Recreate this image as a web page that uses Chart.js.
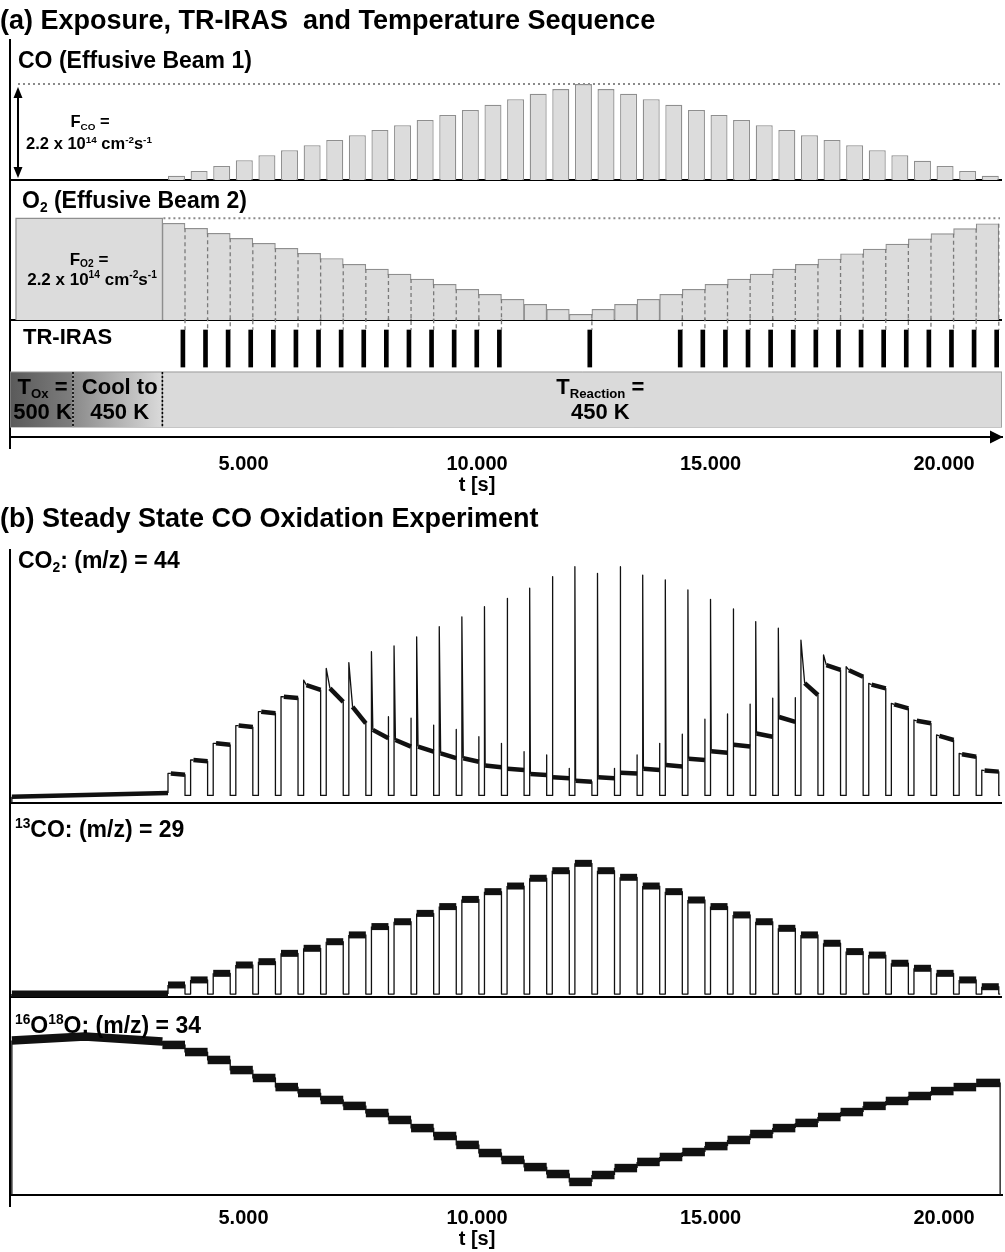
<!DOCTYPE html>
<html>
<head>
<meta charset="utf-8">
<title>CO oxidation - modulated beam sequence</title>
<script src="https://cdn.jsdelivr.net/npm/chart.js@4.4.1/dist/chart.umd.min.js"></script>
<style>
  html, body { margin: 0; padding: 0; background: #fff; }
  #page { position: relative; width: 1005px; height: 1252px; overflow: hidden; font-family: "Liberation Sans", Arial, sans-serif; }
  .box { position: absolute; left: 0; width: 1005px; }
  #boxA { top: 0; height: 497px; }
  #boxB { top: 500px; height: 752px; }
  .head { position: absolute; left: 0; font-weight: bold; font-size: 27px; line-height: 1; color: #000; white-space: pre; z-index: 2; }
</style>
</head>
<body>
<div id="page">
  <div class="box" id="boxA"><canvas id="seq"></canvas></div>
  <div class="box" id="boxB"><canvas id="ms"></canvas></div>
  <div class="head" style="top:7px">(a) Exposure, TR-IRAS  and Temperature Sequence</div>
  <div class="head" style="top:505px">(b) Steady State CO Oxidation Experiment</div>
</div>
<script>
// ---------------- timing (s) ----------------
const pulseStart = [3383, 3867, 4351, 4835, 5319, 5803, 6287, 6771, 7255, 7739, 8223, 8707, 9191, 9675,
  10159, 10643, 11127, 11611, 12095, 12579, 13063, 13547, 14031, 14515, 14999, 15483, 15967, 16451,
  16935, 17419, 17903, 18387, 18871, 19355, 19839, 20323, 20807];
const coOn = 364;        // CO beam open per pulse
const coOff = 120;       // CO beam closed between pulses
const irasScan = 90;     // IR spectra taken at the end of a pulse
const o2PreStart = 128;
const tempSwitch = [0, 1349, 3263, 21240];   // T_ox | cooling | T_reaction
const traceStart = 40, traceEnd = 21200, timeMax = 21240;

// ---------------- beam fluxes, % of 2.2e14 cm-2 s-1 ----------------
const coFlux = [4.5, 9.4, 14.6, 20.6, 25.8, 31, 36.3, 41.8, 46.7, 52.2, 57.2, 62.7, 67.9, 73.1, 78.4, 84.3,
  89.9, 94.8, 100, 94.8, 89.9, 84.3, 78.4, 73.1, 67.9, 62.7, 57.2, 52.2, 46.7, 41.8, 36.3, 31, 25.8, 20.2,
  14.6, 9.4, 4.5];
const o2Flux = [95.1, 90.2, 85.3, 80.3, 75.4, 70.5, 65.6, 60.5, 54.8, 50.1, 45.2, 40.3, 35.1, 30.2, 25.3,
  20.4, 15.4, 10.5, 5.6, 10.5, 15.4, 20.4, 25.3, 30.2, 35.1, 40.3, 45.2, 50.1, 54.8, 60.0, 65.2, 69.8,
  74.7, 79.9, 84.9, 89.8, 94.7];
const o2PreFlux = 100;
const irasPulses = [0, 1, 2, 3, 4, 5, 6, 7, 8, 9, 10, 11, 12, 13, 14, 18, 22, 23, 24, 25, 26, 27, 28, 29,
  30, 31, 32, 33, 34, 35, 36];

// ---------------- QMS signals (arb. units, 0..100 of panel) ----------------
const co2Pre = [2.5, 4.0];
const co2Off = 3.0;
const co2Peak = [11.7, 17.0, 23.6, 30.6, 36.1, 42.0, 48.6, 53.2, 55.5, 59.8, 62.1, 65.7, 69.7, 73.6, 77.6,
  80.9, 84.9, 89.5, 93.4, 90.8, 93.4, 90.1, 88.2, 84.2, 80.5, 76.7, 71.7, 69.1, 64.4, 58.5, 53.9, 47.3,
  39.4, 32.8, 26.9, 19.6, 13.0];
const co2KneeDt = [60, 60, 60, 60, 60, 60, 60, 80, 80, 30, 30, 30, 30, 30, 15, 15, 15, 15, 15, 15, 15, 15,
  15, 15, 15, 15, 15, 15, 80, 60, 60, 60, 60, 60, 60, 60, 60];
const co2Knee = [11.7, 17.0, 23.6, 30.6, 36.1, 42.0, 46.6, 45.3, 38.0, 28.9, 24.9, 22.3, 19.6, 17.7, 14.8,
  13.5, 11.5, 10.2, 8.8, 10.2, 12.0, 13.5, 15.0, 17.5, 20.5, 23.0, 27.5, 34.0, 47.4, 54.5, 52.5, 46.8,
  39.0, 32.5, 26.5, 19.3, 12.8];
const co2End = [11.2, 16.5, 23.0, 30.0, 35.5, 41.5, 44.7, 40.0, 31.5, 25.6, 22.3, 20.3, 17.7, 16.3, 14.1,
  13.0, 11.1, 9.8, 8.4, 9.8, 11.7, 13.0, 14.4, 17.0, 19.9, 22.3, 26.2, 32.1, 42.7, 52.6, 49.9, 45.3,
  37.4, 31.5, 24.9, 18.3, 12.4];
const co2EndPeak = [0, 0, 0, 0, 0, 0, 0, 0, 0, 34.1, 33.5, 30.8, 29.1, 26.2, 23.6, 20.3, 19.0, 13.7, 0,
  13.7, 19.0, 23.6, 27.2, 33.1, 35.2, 39.1, 41.4, 41.6, 0, 0, 0, 0, 0, 0, 0, 0, 0];

const co13Off = 1.5;
const co13Level = [6.2, 8.8, 12.2, 16.5, 18.2, 22.5, 25.1, 28.5, 32.0, 36.3, 38.8, 43.1, 46.6, 50.3, 54.3,
  57.2, 61.2, 65.1, 68.9, 65.1, 61.7, 57.2, 54.3, 50.0, 46.6, 42.3, 38.8, 35.4, 32.0, 27.7, 23.4, 21.6,
  17.4, 14.8, 12.2, 8.8, 5.3];

const o18PreT = [40, 1600, 3263];
const o18Pre = [78, 80, 77.5];
const o18Level = [75.8, 72.2, 68.2, 63.1, 59.1, 54.5, 51.5, 48.0, 45.0, 41.4, 37.9, 33.8, 29.8, 25.3, 21.2,
  17.7, 14.1, 10.6, 6.6, 10.1, 13.6, 16.7, 19.2, 21.7, 24.7, 27.8, 30.8, 33.8, 36.4, 39.4, 41.9, 45.0,
  47.5, 50.0, 52.5, 54.5, 56.6];

// ---------------- axis text ----------------
const timeTicks = [5000, 10000, 15000, 20000];
const timeLabels = ['5.000', '10.000', '15.000', '20.000'];
const timeTitle = 't [s]';
const timeTitleUnder = 10000;

// derived timing
const coEnd = pulseStart.map(t => t + coOn);
const o2Edges = [pulseStart[0] - coOff].concat(coEnd);

const FONT = '"Liberation Sans", Arial, Helvetica, sans-serif';
Chart.defaults.font.family = FONT;
Chart.defaults.color = '#000';
Chart.defaults.animation = false;

const barFill = '#dcdcdc', barEdge = '#8f8f8f';

function timeAxis() {
  return {
    type: 'linear', min: 0, max: timeMax, position: 'bottom', offset: false,
    grid: {display: false, drawTicks: false},
    border: {color: '#000', width: 2},
    ticks: {stepSize: 2500, display: false}
  };
}
function hiddenX() { return {type: 'linear', min: 0, max: timeMax, offset: false, display: false}; }
function panelY(order, h, min, max) {
  return {type: 'linear', position: 'left', stack: 'panels', weight: order, stackWeight: h, min: min, max: max,
    grid: {display: false, drawTicks: false}, ticks: {display: false}, border: {color: '#000', width: 2}};
}

function hGrad(chart, t0, t1, c0, c1) {
  const xs = chart.scales.x;
  if (!xs || !chart.chartArea) return c1;
  const g = chart.ctx.createLinearGradient(xs.getPixelForValue(t0), 0, xs.getPixelForValue(t1), 0);
  g.addColorStop(0, c0);
  g.addColorStop(1, c1);
  return g;
}
function region(a, b) {
  return [{x: a, y: 0}, {x: a, y: 1}, {x: b, y: 1}, {x: b, y: 0}];
}

// ---- small drawing helpers ----
function font(size) { return 'bold ' + size + 'px ' + FONT; }

function drawRich(ctx, parts, x, y, size, align) {
  const items = parts.map(p => {
    const text = Array.isArray(p) ? p[0] : p;
    const kind = Array.isArray(p) ? p[1] : '';
    const s = kind ? size * 0.6 : size;
    ctx.font = font(s);
    return {text, kind, s, w: ctx.measureText(text).width};
  });
  const total = items.reduce((a, it) => a + it.w, 0);
  let cx = align === 'center' ? x - total / 2 : x;
  ctx.textAlign = 'left';
  ctx.textBaseline = 'middle';
  items.forEach(it => {
    ctx.font = font(it.s);
    const dy = it.kind === 'sub' ? size * 0.27 : it.kind === 'sup' ? -size * 0.3 : 0;
    ctx.fillText(it.text, cx, y + dy);
    cx += it.w;
  });
}

function timeTicksDraw(ctx, xs, y, major, minor) {
  ctx.save();
  ctx.strokeStyle = '#000';
  ctx.lineWidth = 2;
  xs.ticks.forEach(t => {
    if (t.value % 2500 !== 0) return;
    const px = Math.round(xs.getPixelForValue(t.value));
    const len = t.value % 5000 === 0 ? major : minor;
    ctx.beginPath(); ctx.moveTo(px, y); ctx.lineTo(px, y + len); ctx.stroke();
  });
  ctx.restore();
}

function timeLabelsDraw(ctx, xs, y, gap) {
  ctx.save();
  ctx.fillStyle = '#000';
  ctx.font = font(20);
  ctx.textAlign = 'center';
  ctx.textBaseline = 'middle';
  timeTicks.forEach((v, k) => {
    const px = xs.getPixelForValue(v);
    ctx.fillText(timeLabels[k], px, y);
    if (v === timeTitleUnder) ctx.fillText(timeTitle, px, y + gap);
  });
  ctx.restore();
}

function separator(ctx, xs, y) {
  ctx.save();
  ctx.strokeStyle = '#000';
  ctx.lineWidth = 2;
  ctx.beginPath(); ctx.moveTo(xs.left, y); ctx.lineTo(xs.right, y); ctx.stroke();
  ctx.restore();
  timeTicksDraw(ctx, xs, y, 10, 5);
}

function dottedLine(ctx, x0, x1, y) {
  ctx.save();
  ctx.strokeStyle = '#8a8a8a';
  ctx.lineWidth = 2;
  ctx.setLineDash([2, 3]);
  ctx.beginPath(); ctx.moveTo(x0, y); ctx.lineTo(x1, y); ctx.stroke();
  ctx.restore();
}

function head(ctx, x, tipY, dir) {
  ctx.beginPath();
  ctx.moveTo(x, tipY);
  ctx.lineTo(x - 4.5, tipY + dir * 11);
  ctx.lineTo(x + 4.5, tipY + dir * 11);
  ctx.closePath();
  ctx.fill();
}

const fluxLine2 = ['2.2 x 10', ['14', 'sup'], ' cm', ['-2', 'sup'], 's', ['-1', 'sup']];

//==================== (a) exposure sequence ====================
const seqDecor = {
  id: 'seqDecor',
  beforeDatasetsDraw(chart) {
    const ctx = chart.ctx, s = chart.scales;
    separator(ctx, s.x, s.yCO.bottom);
    separator(ctx, s.x, s.yO2.bottom);
    timeTicksDraw(ctx, s.x, s.x.top, 12, 6);
    dottedLine(ctx, s.x.left + 8, s.x.right - 2, s.yCO.getPixelForValue(100));
    dottedLine(ctx, s.x.getPixelForValue(o2Edges[0]) + 1, s.x.right - 2, s.yO2.getPixelForValue(100));
  },
  afterDatasetsDraw(chart) {
    const ctx = chart.ctx, s = chart.scales;
    ctx.save();

    // dashed guides from O2 steps down to the IR scans
    irasPulses.forEach(i => {
      const px = s.x.getPixelForValue(coEnd[i]);
      const next = i + 1 < o2Flux.length ? o2Flux[i + 1] : o2Flux[i];
      const yTop = s.yO2.getPixelForValue(Math.min(o2Flux[i], next));
      const yMark = s.yIR.getPixelForValue(1);
      if (i + 1 < o2Flux.length) {
        ctx.fillStyle = barFill;
        ctx.fillRect(px - 1.7, yTop + 1, 3.4, s.yO2.bottom - yTop - 2.5);
      }
      ctx.strokeStyle = '#7a7a7a';
      ctx.lineWidth = 1.3;
      ctx.setLineDash([4, 3]);
      ctx.beginPath(); ctx.moveTo(px, yTop); ctx.lineTo(px, yMark); ctx.stroke();
    });
    ctx.setLineDash([]);

    // flux double arrow
    ctx.fillStyle = '#000';
    ctx.strokeStyle = '#000';
    ctx.lineWidth = 2;
    const ax = s.x.left + 8;
    const aTop = s.yCO.getPixelForValue(100) + 3, aBot = s.yCO.bottom - 2;
    ctx.beginPath(); ctx.moveTo(ax, aTop + 8); ctx.lineTo(ax, aBot - 8); ctx.stroke();
    head(ctx, ax, aTop, 1);
    head(ctx, ax, aBot, -1);

    // panel labels
    drawRich(ctx, ['CO (Effusive Beam 1)'], s.x.left + 8, s.yCO.top + 22, 23, 'left');
    drawRich(ctx, ['O', ['2', 'sub'], ' (Effusive Beam 2)'], s.x.left + 12, s.yO2.top + 22, 23, 'left');
    drawRich(ctx, ['TR-IRAS'], s.x.left + 13, s.yIR.top + 18, 22, 'left');

    // flux annotations
    drawRich(ctx, ['F', ['CO', 'sub'], ' ='], s.x.left + 80, s.yCO.getPixelForValue(59.6), 16.5, 'center');
    drawRich(ctx, fluxLine2, s.x.left + 79, s.yCO.getPixelForValue(36.6), 16.5, 'center');
    drawRich(ctx, ['F', ['O2', 'sub'], ' ='], s.x.left + 79, s.yO2.getPixelForValue(59), 17, 'center');
    drawRich(ctx, fluxLine2, s.x.left + 82, s.yO2.getPixelForValue(39.3), 17, 'center');

    // temperature program
    ctx.strokeStyle = '#000';
    ctx.lineWidth = 1.6;
    ctx.setLineDash([2, 2]);
    [tempSwitch[1], tempSwitch[2]].forEach(t => {
      const px = s.x.getPixelForValue(t);
      ctx.beginPath(); ctx.moveTo(px, s.yT.getPixelForValue(1)); ctx.lineTo(px, s.yT.getPixelForValue(0)); ctx.stroke();
    });
    ctx.setLineDash([]);
    const r1 = s.yT.getPixelForValue(0.71), r2 = s.yT.getPixelForValue(0.255);
    const c0 = s.x.getPixelForValue((tempSwitch[0] + tempSwitch[1]) / 2) + 1;
    const c1 = s.x.getPixelForValue((tempSwitch[1] + tempSwitch[2]) / 2) + 2;
    const c2 = s.x.getPixelForValue(12640);
    drawRich(ctx, ['T', ['Ox', 'sub'], ' ='], c0, r1, 22, 'center');
    drawRich(ctx, ['500 K'], c0, r2, 22, 'center');
    drawRich(ctx, ['Cool to'], c1, r1, 22, 'center');
    drawRich(ctx, ['450 K'], c1, r2, 22, 'center');
    drawRich(ctx, ['T', ['Reaction', 'sub'], ' ='], c2, r1, 22, 'center');
    drawRich(ctx, ['450 K'], c2, r2, 22, 'center');

    // time axis arrow and labels
    const ay = s.x.top, ar = s.x.right + 1;
    ctx.beginPath();
    ctx.moveTo(ar, ay); ctx.lineTo(ar - 13, ay - 6.5); ctx.lineTo(ar - 13, ay + 6.5);
    ctx.closePath(); ctx.fill();
    ctx.restore();
    timeLabelsDraw(ctx, s.x, s.x.top + 27, 21);
  }
};

const tempLine = {type: 'line', xAxisID: 'x', yAxisID: 'yT', fill: 'origin', pointRadius: 0,
  borderColor: '#9a9a9a', borderWidth: 1, tension: 0};

new Chart(document.getElementById('seq'), {
  type: 'bar',
  data: {
    datasets: [
      {label: 'CO', xAxisID: 'xCO', yAxisID: 'yCO', grouped: false,
        data: pulseStart.map((t, i) => ({x: t + coOn / 2, y: coFlux[i]})),
        backgroundColor: barFill, borderColor: barEdge, borderWidth: 1.3,
        barPercentage: coOn / (coOn + coOff), categoryPercentage: 1},
      {label: 'O2', xAxisID: 'xO2', yAxisID: 'yO2', grouped: false,
        data: o2Flux.map((v, i) => ({x: (o2Edges[i] + o2Edges[i + 1]) / 2, y: v})),
        backgroundColor: barFill, borderColor: barEdge, borderWidth: 1.2,
        barPercentage: 1, categoryPercentage: 1},
      {type: 'line', label: 'O2 pre-exposure', xAxisID: 'x', yAxisID: 'yO2',
        data: [{x: o2PreStart, y: 0}, {x: o2PreStart, y: o2PreFlux}, {x: o2Edges[0], y: o2PreFlux}, {x: o2Edges[0], y: 0}],
        fill: 'origin', backgroundColor: barFill, borderColor: barEdge, borderWidth: 1.2, pointRadius: 0, tension: 0},
      {label: 'TR-IRAS', xAxisID: 'xIR', yAxisID: 'yIR', grouped: false,
        data: irasPulses.map(i => ({x: coEnd[i] - irasScan / 2, y: 1})),
        backgroundColor: '#000', borderWidth: 0, barThickness: 4},
      Object.assign({label: 'T ox', data: region(tempSwitch[0], tempSwitch[1]),
        backgroundColor: c => hGrad(c.chart, tempSwitch[0], tempSwitch[1], '#5a5a5a', '#7e7e7e')}, tempLine),
      Object.assign({label: 'cooling', data: region(tempSwitch[1], tempSwitch[2]),
        backgroundColor: c => hGrad(c.chart, tempSwitch[1], tempSwitch[2], '#8a8a8a', '#dadada')}, tempLine),
      Object.assign({label: 'T reaction', data: region(tempSwitch[2], tempSwitch[3]),
        backgroundColor: '#dadada'}, tempLine),
      {type: 'line', label: 'T base', xAxisID: 'x', yAxisID: 'yT', fill: false, pointRadius: 0,
        data: [{x: tempSwitch[0], y: 0}, {x: tempSwitch[3], y: 0}], borderColor: '#9a9a9a', borderWidth: 1}
    ]
  },
  options: {
    responsive: true, maintainAspectRatio: false, devicePixelRatio: 1,
    layout: {padding: {left: 10, right: 3, top: 40, bottom: 60}},
    plugins: {legend: {display: false}, tooltip: {enabled: false}},
    scales: {
      x: timeAxis(),
      xCO: hiddenX(), xO2: hiddenX(), xIR: hiddenX(),
      yCO: panelY(4, 140, 0, 146),
      yO2: panelY(3, 140, 0, 137.7),
      yIR: panelY(2, 50, -0.08, 1.27),
      yT: panelY(1, 67, -0.18, 1.036)
    }
  },
  plugins: [seqDecor]
});

//==================== (b) mass spectrometer traces ====================
function co2Points() {
  const pts = [{x: traceStart, y: 0}, {x: traceStart, y: co2Pre[0]}, {x: pulseStart[0], y: co2Pre[1]}];
  pulseStart.forEach((t0, i) => {
    const t1 = coEnd[i];
    pts.push({x: t0, y: co2Peak[i]}, {x: t0 + co2KneeDt[i], y: co2Knee[i]}, {x: t1, y: co2End[i]});
    if (co2EndPeak[i]) pts.push({x: t1, y: co2EndPeak[i]});
    pts.push({x: t1, y: co2Off});
    pts.push({x: i + 1 < pulseStart.length ? pulseStart[i + 1] : traceEnd, y: co2Off});
  });
  return pts;
}
function co13Points() {
  const pts = [{x: traceStart, y: 0}, {x: traceStart, y: co13Off}, {x: pulseStart[0], y: co13Off}];
  pulseStart.forEach((t0, i) => {
    pts.push({x: t0, y: co13Level[i]}, {x: coEnd[i], y: co13Level[i]}, {x: coEnd[i], y: co13Off});
    pts.push({x: i + 1 < pulseStart.length ? pulseStart[i + 1] : traceEnd, y: co13Off});
  });
  return pts;
}
function o18Points() {
  const pts = [{x: o18PreT[0], y: 0}];
  o18PreT.forEach((t, k) => pts.push({x: t, y: o18Pre[k]}));
  o18Level.forEach((v, i) => {
    pts.push({x: o2Edges[i], y: v}, {x: i + 1 < o18Level.length ? o2Edges[i + 1] : traceEnd, y: v});
  });
  pts.push({x: traceEnd, y: 0});
  return pts;
}

function traceWidth(thick) {
  return c => (c.p1.parsed.x - c.p0.parsed.x > 150 ? thick : 1.3);
}
function trace(label, axis, pts, thick) {
  return {label: label, yAxisID: axis, xAxisID: 'x', data: pts, borderColor: '#111', borderWidth: 1.3,
    pointRadius: 0, tension: 0, fill: false, borderJoinStyle: 'round',
    segment: {borderWidth: traceWidth(thick)}};
}

const msDecor = {
  id: 'msDecor',
  beforeDatasetsDraw(chart) {
    const ctx = chart.ctx, s = chart.scales;
    separator(ctx, s.x, s.yCO2.bottom);
    separator(ctx, s.x, s.y13.bottom);
    timeTicksDraw(ctx, s.x, s.x.top, 12, 6);
  },
  afterDatasetsDraw(chart) {
    const ctx = chart.ctx, s = chart.scales;
    ctx.save();
    ctx.fillStyle = '#000';
    drawRich(ctx, ['CO', ['2', 'sub'], ': (m/z) = 44'], s.x.left + 8, s.yCO2.top + 12, 23, 'left');
    drawRich(ctx, [['13', 'sup'], 'CO: (m/z) = 29'], s.x.left + 5, s.y13.top + 28, 23, 'left');
    drawRich(ctx, [['16', 'sup'], 'O', ['18', 'sup'], 'O: (m/z) = 34'], s.x.left + 5, s.y18.top + 30, 23, 'left');
    ctx.restore();
    timeLabelsDraw(ctx, s.x, s.x.top + 23, 21);
  }
};

new Chart(document.getElementById('ms'), {
  type: 'line',
  data: {
    datasets: [
      trace('CO2 m/z 44', 'yCO2', co2Points(), 4.5),
      trace('13CO m/z 29', 'y13', co13Points(), 7),
      trace('16O18O m/z 34', 'y18', o18Points(), 8.5)
    ]
  },
  options: {
    responsive: true, maintainAspectRatio: false, devicePixelRatio: 1,
    layout: {padding: {left: 10, right: 3, top: 50, bottom: 57}},
    plugins: {legend: {display: false}, tooltip: {enabled: false}},
    scales: {
      x: timeAxis(),
      yCO2: panelY(3, 253, 0, 100),
      y13: panelY(2, 194, 0, 100),
      y18: panelY(1, 198, 0, 100)
    }
  },
  plugins: [msDecor]
});
</script>
</body>
</html>
